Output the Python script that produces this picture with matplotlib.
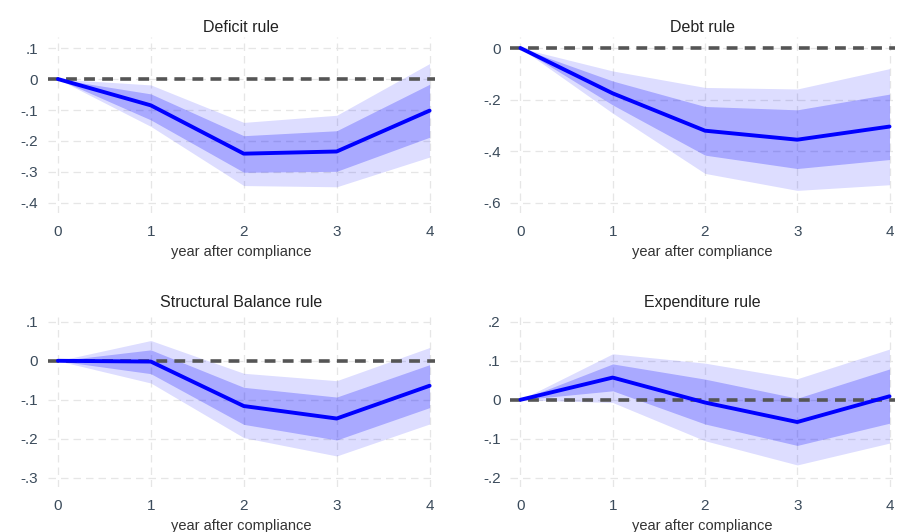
import matplotlib
matplotlib.use("Agg")
from matplotlib import pyplot as plt
import numpy as np

plt.rcParams['font.family'] = ['Liberation Sans', 'DejaVu Sans']

years = [0, 1, 2, 3, 4]
titles = ["Deficit rule", "Debt rule", "Structural Balance rule", "Expenditure rule"]

# point estimates
deficit = [0, -0.085, -0.241, -0.234, -0.102]
debt = [0, -0.176, -0.321, -0.356, -0.305]
structural = [0, -0.002, -0.116, -0.148, -0.064]
expenditure = [0, 0.057, -0.007, -0.057, 0.009]

# inner band (lo, hi)
deficit_in = ([0, -0.132, -0.301, -0.298, -0.188], [0, -0.048, -0.183, -0.167, -0.017])
debt_in = ([0, -0.221, -0.416, -0.468, -0.433], [0, -0.128, -0.227, -0.240, -0.179])
structural_in = ([0, -0.033, -0.163, -0.203, -0.120], [0, 0.028, -0.068, -0.093, -0.010])
expenditure_in = ([0, 0.023, -0.062, -0.117, -0.060], [0, 0.092, 0.053, 0.004, 0.079])

# outer band (lo, hi)
deficit_out = ([0, -0.153, -0.344, -0.348, -0.252], [0, -0.019, -0.140, -0.117, 0.050])
debt_out = ([0, -0.253, -0.487, -0.553, -0.531], [0, -0.089, -0.153, -0.159, -0.080])
structural_out = ([0, -0.057, -0.197, -0.244, -0.162], [0, 0.052, -0.032, -0.051, 0.034])
expenditure_out = ([0, -0.007, -0.105, -0.167, -0.111], [0, 0.118, 0.094, 0.054, 0.130])

yticks = [[0.1, 0, -0.1, -0.2, -0.3, -0.4],
          [0, -0.2, -0.4, -0.6],
          [0.1, 0, -0.1, -0.2, -0.3],
          [0.2, 0.1, 0, -0.1, -0.2]]
ylims = [(-0.432, 0.135), (-0.64, 0.042), (-0.323, 0.123), (-0.223, 0.223)]

series = [deficit, debt, structural, expenditure]
inner = [deficit_in, debt_in, structural_in, expenditure_in]
outer = [deficit_out, debt_out, structural_out, expenditure_out]

# panel positions [left, bottom, width, height] in figure fraction
boxes = [[0.053, 0.600, 0.430, 0.330],
         [0.567, 0.600, 0.427, 0.330],
         [0.053, 0.085, 0.430, 0.327],
         [0.567, 0.085, 0.427, 0.327]]


def stata_fmt(v):
    if abs(v) < 1e-9:
        return "0"
    s = "%g" % v
    return s.replace("0.", ".")


fig = plt.figure(figsize=(9, 5.32), dpi=100)

for i in range(4):
    ax = fig.add_axes(boxes[i])
    x = np.array(years)
    ax.fill_between(x, outer[i][0], outer[i][1], color=(0, 0, 1, 0.135), linewidth=0, zorder=2)
    ax.fill_between(x, inner[i][0], inner[i][1], color=(0, 0, 1, 0.235), linewidth=0, zorder=3)
    ax.axhline(0, color='#555555', linestyle=(0, (3, 2)), linewidth=2.6, zorder=4)
    ax.plot(x, series[i], color='#0000ff', linewidth=2.8, zorder=5, solid_capstyle='round')

    ax.set_xlim(-0.11, 4.055)
    ax.set_ylim(*ylims[i])
    ax.set_xticks(years)
    ax.set_yticks(yticks[i])
    ax.set_yticklabels([stata_fmt(v) for v in yticks[i]])
    ax.grid(True, color='#e6e6e6', linestyle=(0, (6, 4)), linewidth=0.9, zorder=0)
    ax.set_axisbelow(True)
    for sp in ax.spines.values():
        sp.set_visible(False)
    ax.tick_params(length=0, labelsize=11, colors='#3b4b5b')
    ax.tick_params(axis='x', pad=9)
    ax.tick_params(axis='y', pad=7)
    ax.set_title(titles[i], fontsize=11.5, color='#222222', pad=4)
    ax.set_xlabel("year after compliance", fontsize=10.5, color='#333333', labelpad=4)

fig.savefig("out.png", dpi=100, facecolor='white')
